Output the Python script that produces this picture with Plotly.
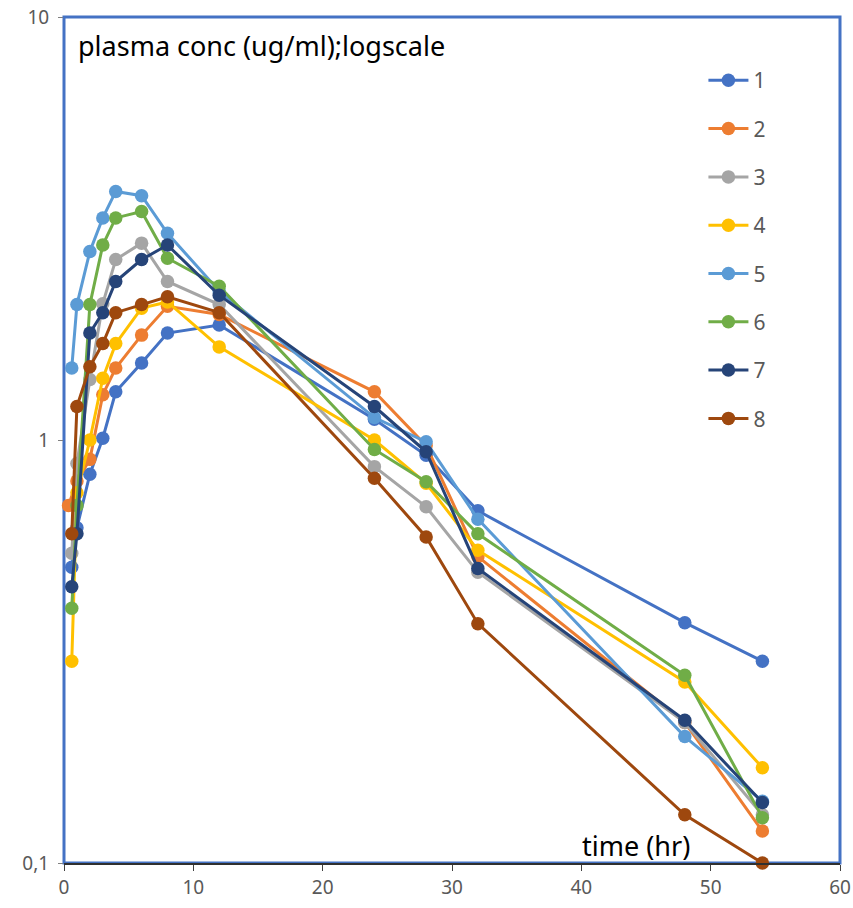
import plotly.graph_objects as go

# sampling times (hr)
times = [0.6, 1, 2, 3, 4, 6, 8, 12, 24, 28, 32, 48, 54]
times_2 = [0.35, 1, 2, 3, 4, 6, 8, 12, 24, 28, 32, 48, 54]

names = ["1", "2", "3", "4", "5", "6", "7", "8"]

s1 = [0.50, 0.62, 0.83, 1.01, 1.30, 1.52, 1.79, 1.87, 1.12, 0.92, 0.68, 0.37, 0.30]
s2 = [0.70, 0.80, 0.90, 1.28, 1.48, 1.77, 2.07, 1.98, 1.30, 0.97, 0.53, 0.215, 0.119]
s3 = [0.54, 0.88, 1.39, 2.10, 2.67, 2.92, 2.37, 2.09, 0.865, 0.695, 0.487, 0.215, 0.13]
s4 = [0.30, 0.75, 1.00, 1.40, 1.69, 2.05, 2.12, 1.66, 1.00, 0.79, 0.549, 0.268, 0.168]
s5 = [1.48, 2.09, 2.79, 3.35, 3.87, 3.78, 3.08, 2.25, 1.13, 0.99, 0.65, 0.199, 0.14]
s6 = [0.40, 0.70, 2.09, 2.89, 3.35, 3.47, 2.69, 2.31, 0.95, 0.797, 0.60, 0.278, 0.128]
s7 = [0.45, 0.60, 1.79, 2.00, 2.37, 2.67, 2.89, 2.20, 1.20, 0.938, 0.497, 0.2175, 0.139]
s8 = [0.60, 1.20, 1.49, 1.69, 2.00, 2.09, 2.18, 2.00, 0.812, 0.59, 0.368, 0.13, 0.100]

series = [s1, s2, s3, s4, s5, s6, s7, s8]
xs = [times, times_2, times, times, times, times, times, times]
colors = ["#4472C4", "#ED7D31", "#A5A5A5", "#FFC000", "#5B9BD5", "#70AD47", "#264478", "#9E480E"]

x_ticks = [0, 10, 20, 30, 40, 50, 60]
y_ticks = [0.1, 1, 10]
y_tick_labels = ["0,1", "1", "10"]

FONT = "Noto Sans, DejaVu Sans, sans-serif"

fig = go.Figure()
for name, x, y, c in zip(names, xs, series, colors):
    fig.add_trace(go.Scatter(
        x=x, y=y, name=name, mode="lines+markers",
        line=dict(color=c, width=3),
        marker=dict(color=c, size=13.5),
        cliponaxis=False,
        legendgroup=name,
    ))

fig.update_layout(
    width=853, height=908,
    margin=dict(l=64, r=13, t=17, b=45, autoexpand=False),
    paper_bgcolor="white", plot_bgcolor="white",
    font=dict(family=FONT, color="#595959", size=19),
    showlegend=True,
    legend=dict(
        x=0.824, y=0.949, xanchor="left", yanchor="top",
        font=dict(size=21, color="#595959", family=FONT),
        tracegroupgap=18, itemwidth=40,
        bgcolor="rgba(0,0,0,0)",
    ),
    xaxis=dict(
        range=[0, 60], tickvals=x_ticks, ticks="outside", ticklen=6,
        tickcolor="#404040", showgrid=False, zeroline=False,
        showline=True, linecolor="#303030", linewidth=1.5,
        ticklabeloverflow="allow", automargin=False,
        tickfont=dict(size=19, color="#595959", family=FONT),
    ),
    yaxis=dict(
        type="log", range=[-1, 1], tickvals=y_ticks, ticktext=y_tick_labels,
        ticks="outside", ticklen=5, tickcolor="#808080", ticklabelstandoff=5,
        showgrid=False, zeroline=False, showline=False, automargin=False,
        tickfont=dict(size=19, color="#595959", family=FONT),
    ),
    shapes=[dict(type="rect", xref="paper", yref="paper", x0=0, x1=1, y0=0, y1=1,
                 line=dict(color="#4472C4", width=3), layer="below")],
    annotations=[
        dict(text="plasma conc (ug/ml);logscale", xref="paper", yref="paper",
             x=0.016, y=0.990, xanchor="left", yanchor="top", showarrow=False,
             font=dict(size=27, color="#000000", family=FONT)),
        dict(text="time (hr)", xref="x", yref="paper", x=44.2, y=-0.003,
             xanchor="center", yanchor="bottom", showarrow=False,
             font=dict(size=27, color="#000000", family=FONT)),
    ],
)

fig.write_html("out.html")
